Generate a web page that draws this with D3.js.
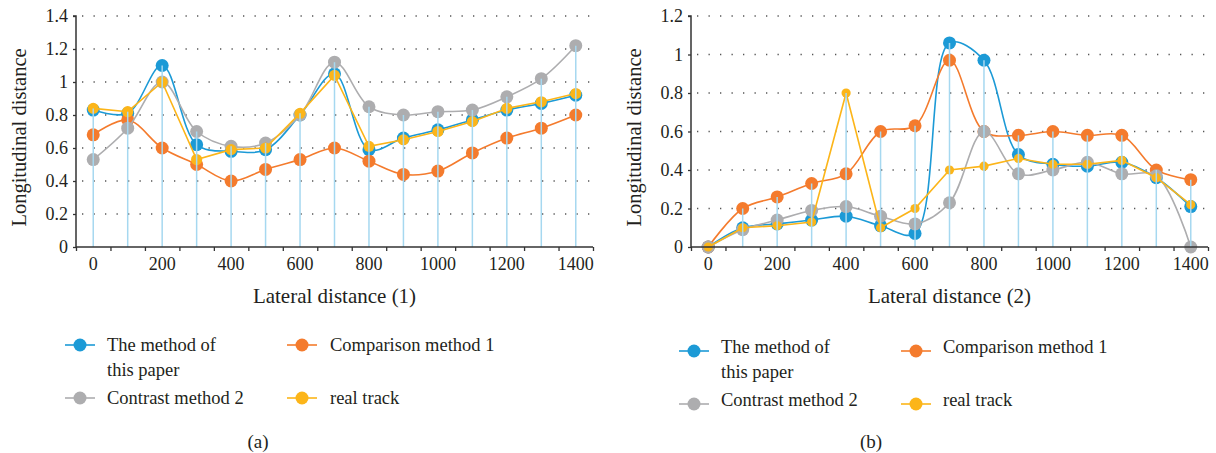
<!DOCTYPE html>
<html>
<head>
<meta charset="utf-8">
<script src="https://cdn.jsdelivr.net/npm/d3@7/dist/d3.min.js"></script>
<style>
html,body{margin:0;padding:0;background:#fff;}
svg{display:block;font-family:"Liberation Serif","DejaVu Serif",serif;}
</style>
</head>
<body>
<svg id="chart" width="1216" height="453"></svg>
<script>
// ---------- data ----------
const categories = [0,100,200,300,400,500,600,700,800,900,1000,1100,1200,1300,1400];
const xTickLabels = [0,200,400,600,800,1000,1200,1400];

const seriesNames = ["The method of this paper","Comparison method 1","Contrast method 2","real track"];

// chart (a)
const aMethod   = [0.83,0.81,1.10,0.62,0.58,0.59,0.80,1.05,0.59,0.66,0.71,0.77,0.83,0.87,0.92];
const aComp1    = [0.68,0.77,0.60,0.50,0.40,0.47,0.53,0.60,0.52,0.44,0.46,0.57,0.66,0.72,0.80];
const aContrast = [0.53,0.72,1.00,0.70,0.61,0.63,0.80,1.12,0.85,0.80,0.82,0.83,0.91,1.02,1.22];
const aReal     = [0.84,0.82,1.00,0.53,0.59,0.60,0.81,1.04,0.61,0.65,0.70,0.76,0.84,0.88,0.93];
const aYTicks   = [0,0.2,0.4,0.6,0.8,1,1.2,1.4];

// chart (b)
const bMethod   = [0,0.10,0.12,0.14,0.16,0.11,0.07,1.06,0.97,0.48,0.43,0.42,0.44,0.36,0.21];
const bComp1    = [0,0.20,0.26,0.33,0.38,0.60,0.63,0.97,0.60,0.58,0.60,0.58,0.58,0.40,0.35];
const bContrast = [0,0.09,0.14,0.19,0.21,0.16,0.12,0.23,0.60,0.38,0.40,0.44,0.38,0.37,0.00];
const bReal     = [0,0.10,0.11,0.13,0.80,0.10,0.20,0.40,0.42,0.46,0.43,0.43,0.45,0.36,0.22];
const bYTicks   = [0,0.2,0.4,0.6,0.8,1,1.2];

const colors = ["#1c9ad6","#f47b2d","#adadaf","#fcb519"];
const dropColor = "#a6d8f0";
const textColor = "#231f20";
const FONT = "Liberation Serif";

const svg = d3.select("#chart");

function drawChart(opts){
  const {left,right,top,bottom,ymax,yTicks,series,xTitle,caption,legend,smallYellow} = opts;
  const g = svg.append("g");
  const x = d3.scaleBand().domain(categories).range([left,right]).padding(0);
  const xb = d3.scaleLinear().domain([0,categories.length]).range([left,right]);
  const y = d3.scaleLinear().domain([0,ymax]).range([bottom,top]);
  const cx = c => x(c) + x.bandwidth()/2;

  // dotted gridlines
  g.append("g").selectAll("line").data(yTicks.filter(d=>d>0)).join("line")
    .attr("x1",left+6).attr("x2",right).attr("y1",d=>y(d)).attr("y2",d=>y(d))
    .attr("stroke","#555").attr("stroke-width",1.3).attr("stroke-dasharray","1.3,10.2");

  // series
  const radii = [6.5,6.5,6.5, smallYellow ? 4.6 : 5.6];
  series.forEach((vals,i)=>{
    const pts = categories.map((c,j)=>[cx(c), y(vals[j])]);
    const line = d3.line().curve(i===3 ? d3.curveLinear : d3.curveCatmullRom.alpha(0.5));
    g.append("path").attr("d", line(pts)).attr("fill","none")
      .attr("stroke",colors[i]).attr("stroke-width",1.6);
    g.append("g").selectAll("circle").data(pts).join("circle")
      .attr("cx",d=>d[0]).attr("cy",d=>d[1]).attr("r",radii[i]).attr("fill",colors[i]);
  });

  // drop lines (to the highest value)
  const maxVals = categories.map((c,j)=>d3.max(series, s=>s[j]));
  g.append("g").selectAll("line").data(categories).join("line")
    .attr("x1",c=>cx(c)).attr("x2",c=>cx(c))
    .attr("y1",y(0)).attr("y2",(c,j)=>y(maxVals[j]))
    .attr("stroke",dropColor).attr("stroke-width",1.5);

  // y axis
  const yAxis = d3.axisLeft(y).tickValues(yTicks).tickSize(3).tickPadding(5)
    .tickFormat(d=>String(+d.toFixed(1)));
  const ya = g.append("g").attr("transform",`translate(${left},0)`).call(yAxis);
  ya.attr("font-family",FONT);
  ya.select(".domain").attr("stroke","#333").attr("stroke-width",1.5).attr("d",`M-3,${top}H0V${bottom}`);
  ya.selectAll(".tick line").attr("stroke","#333").attr("stroke-width",1.3);
  ya.selectAll("text").attr("font-size",18).attr("fill",textColor).attr("font-family",FONT);

  // x axis: boundary ticks
  const xAxisTicks = d3.axisBottom(xb).tickValues(d3.range(0,categories.length+1)).tickSize(4).tickFormat("");
  const xa = g.append("g").attr("transform",`translate(0,${bottom})`).call(xAxisTicks);
  xa.select(".domain").attr("stroke","#333").attr("stroke-width",1.5).attr("d",`M${left},0H${right}`);
  xa.selectAll(".tick line").attr("stroke","#333").attr("stroke-width",1.3);
  // x labels at category centres
  const xLab = d3.axisBottom(x).tickValues(xTickLabels).tickSize(0).tickPadding(10);
  const xl = g.append("g").attr("transform",`translate(0,${bottom})`).call(xLab);
  xl.attr("font-family",FONT);
  xl.select(".domain").remove();
  xl.selectAll("text").attr("font-size",18).attr("fill",textColor).attr("font-family",FONT);

  // axis titles
  g.append("text").attr("x",(left+right)/2).attr("y",303).attr("text-anchor","middle")
    .attr("font-size",21).attr("fill",textColor).text(xTitle);
  g.append("text").attr("transform",`translate(${left-50},${(top+bottom)/2+6}) rotate(-90)`)
    .attr("text-anchor","middle").attr("font-size",20.5).attr("fill",textColor).text("Longitudinal distance");

  // legend
  const L = legend;
  const items = [
    {i:0, lx:L.c1, tx:L.t1, y:L.r1, lines:["The method of","this paper"]},
    {i:1, lx:L.c2, tx:L.t2, y:L.r1, lines:["Comparison method 1"]},
    {i:2, lx:L.c1, tx:L.t1, y:L.r2, lines:["Contrast method 2"]},
    {i:3, lx:L.c2, tx:L.t2, y:L.r2, lines:["real track"]}
  ];
  items.forEach(it=>{
    const my = it.y + L.mOff;
    g.append("line").attr("x1",it.lx-15).attr("x2",it.lx+15).attr("y1",my).attr("y2",my)
      .attr("stroke",colors[it.i]).attr("stroke-width",1.6);
    g.append("circle").attr("cx",it.lx).attr("cy",my).attr("r",6.5).attr("fill",colors[it.i]);
    it.lines.forEach((t,k)=>{
      g.append("text").attr("x",it.tx).attr("y",it.y + 6 + k*25)
        .attr("font-size",18.5).attr("fill",textColor).text(t);
    });
  });
  g.append("text").attr("x",caption.x).attr("y",448).attr("text-anchor","middle")
    .attr("font-size",19).attr("fill",textColor).text(caption.t);
}

drawChart({left:76,right:593,top:16,bottom:247,ymax:1.4,yTicks:aYTicks,
  series:[aMethod,aComp1,aContrast,aReal],xTitle:"Lateral distance (1)",
  caption:{x:258,t:"(a)"},smallYellow:false,
  legend:{c1:80,t1:107,c2:302,t2:330,r1:345,r2:398,mOff:0}});

drawChart({left:691,right:1208,top:16,bottom:247,ymax:1.2,yTicks:bYTicks,
  series:[bMethod,bComp1,bContrast,bReal],xTitle:"Lateral distance (2)",
  caption:{x:871,t:"(b)"},smallYellow:true,
  legend:{c1:694,t1:721,c2:916,t2:943,r1:347,r2:400,mOff:4}});
</script>
</body>
</html>
